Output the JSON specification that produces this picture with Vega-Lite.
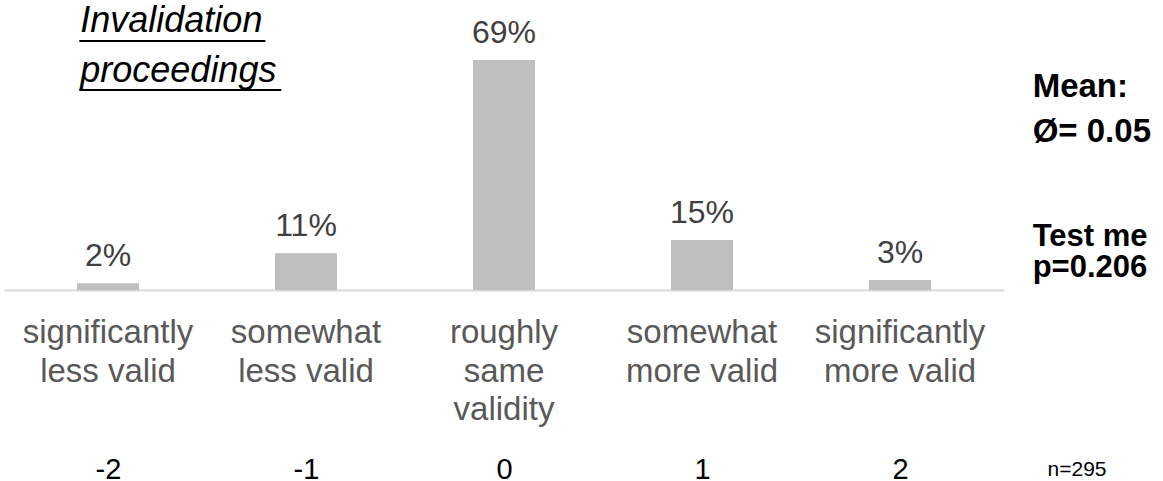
{
  "$schema": "https://vega.github.io/schema/vega-lite/v6.json",
  "width": 1000,
  "height": 290,
  "autosize": {"type": "none"},
  "padding": {"left": 4, "top": 0, "right": 159, "bottom": 191},
  "background": "#ffffff",
  "config": {"view": {"stroke": null}, "font": "Liberation Sans"},
  "data": {
    "values": [
      {"score": -2, "category": "significantly\nless valid", "share": 2},
      {"score": -1, "category": "somewhat\nless valid", "share": 11},
      {"score": 0, "category": "roughly\nsame\nvalidity", "share": 69},
      {"score": 1, "category": "somewhat\nmore valid", "share": 15},
      {"score": 2, "category": "significantly\nmore valid", "share": 3}
    ]
  },
  "layer": [
    {
      "mark": {"type": "bar", "width": 62, "color": "#bfbfbf"},
      "encoding": {
        "x": {
          "field": "score",
          "type": "quantitative",
          "scale": {"domain": [-2.5, 2.5], "nice": false, "zero": false},
          "axis": {
            "values": [-2, -1, 0, 1, 2],
            "labelExpr": "'' + datum.value",
            "title": null,
            "grid": false,
            "ticks": false,
            "tickSize": 0,
            "domainColor": "#d9d9d9",
            "domainWidth": 2,
            "labelFont": "Liberation Sans",
            "labelFontSize": 29,
            "labelColor": "#000000",
            "labelPadding": 165,
            "labelFlush": false
          }
        },
        "y": {
          "field": "share",
          "type": "quantitative",
          "scale": {"domain": [0, 87], "nice": false},
          "axis": null
        }
      }
    },
    {
      "transform": [{"calculate": "datum.share + '%'", "as": "share_label"}],
      "mark": {"type": "text", "baseline": "alphabetic", "dy": -17, "fontSize": 32, "color": "#404040"},
      "encoding": {
        "x": {"field": "score", "type": "quantitative"},
        "y": {"field": "share", "type": "quantitative"},
        "text": {"field": "share_label"}
      }
    },
    {
      "mark": {"type": "text", "baseline": "alphabetic", "lineBreak": "\n", "lineHeight": 38.5, "fontSize": 33, "color": "#595959", "clip": false},
      "encoding": {
        "x": {"field": "score", "type": "quantitative"},
        "y": {"datum": -15.9},
        "text": {"field": "category"}
      }
    },
    {
      "data": {"values": [{"note": "Invalidation\nproceedings"}]},
      "mark": {"type": "text", "align": "left", "baseline": "alphabetic", "lineBreak": "\n", "lineHeight": 50, "fontSize": 36, "fontStyle": "italic", "color": "#000000"},
      "encoding": {
        "x": {"datum": -2.14},
        "y": {"datum": 77.4},
        "text": {"field": "note"}
      }
    },
    {
      "data": {"values": [{"x0": -2.145, "x1": -1.205, "y": 74.7}, {"x0": -2.145, "x1": -1.125, "y": 60}]},
      "mark": {"type": "rule", "color": "#000000", "strokeWidth": 2},
      "encoding": {
        "x": {"field": "x0", "type": "quantitative"},
        "x2": {"field": "x1"},
        "y": {"field": "y", "type": "quantitative"}
      }
    },
    {
      "data": {"values": [{"note": "Mean:"}]},
      "mark": {"type": "text", "align": "left", "baseline": "alphabetic", "fontSize": 33, "fontWeight": "bold", "color": "#000000", "clip": false},
      "encoding": {"x": {"datum": 2.67}, "y": {"datum": 57.9}, "text": {"field": "note"}}
    },
    {
      "data": {"values": [{"note": "Ø= 0.05"}]},
      "mark": {"type": "text", "align": "left", "baseline": "alphabetic", "fontSize": 33, "fontWeight": "bold", "color": "#000000", "clip": false},
      "encoding": {"x": {"datum": 2.67}, "y": {"datum": 44.4}, "text": {"field": "note"}}
    },
    {
      "data": {"values": [{"note": "Test me"}]},
      "mark": {"type": "text", "align": "left", "baseline": "alphabetic", "fontSize": 31, "fontWeight": "bold", "color": "#000000", "clip": false},
      "encoding": {"x": {"datum": 2.67}, "y": {"datum": 13.2}, "text": {"field": "note"}}
    },
    {
      "data": {"values": [{"note": "p=0.206"}]},
      "mark": {"type": "text", "align": "left", "baseline": "alphabetic", "fontSize": 31, "fontWeight": "bold", "color": "#000000", "clip": false},
      "encoding": {"x": {"datum": 2.67}, "y": {"datum": 3.9}, "text": {"field": "note"}}
    },
    {
      "data": {"values": [{"note": "n=295"}]},
      "mark": {"type": "text", "align": "left", "baseline": "alphabetic", "fontSize": 21, "color": "#000000", "clip": false},
      "encoding": {"x": {"datum": 2.745}, "y": {"datum": -55.8}, "text": {"field": "note"}}
    }
  ]
}
